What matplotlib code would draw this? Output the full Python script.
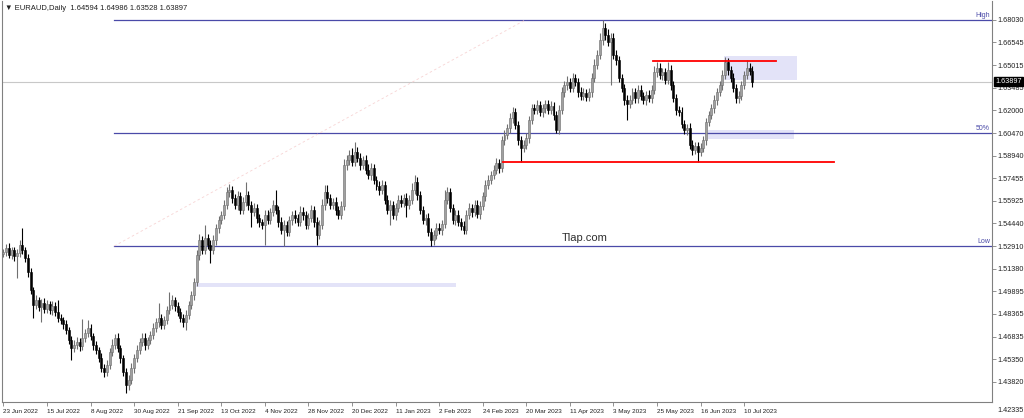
import matplotlib.pyplot as plt
import matplotlib.transforms as mtransforms
from matplotlib.patches import Rectangle

# EURAUD daily closes, one per bar starting 23 Jun 2022
closes = [
    1.5251, 1.5278, 1.5231, 1.5265, 1.5224, 1.5244, 1.5298, 1.5265, 1.5211, 1.5117,
    1.4997, 1.4896, 1.4930, 1.4883, 1.4910, 1.4870, 1.4903, 1.4863, 1.4890, 1.4850,
    1.4809, 1.4796, 1.4769, 1.4729, 1.4663, 1.4609, 1.4629, 1.4649, 1.4622, 1.4676,
    1.4709, 1.4743, 1.4689, 1.4629, 1.4596, 1.4542, 1.4475, 1.4449, 1.4495, 1.4582,
    1.4629, 1.4676, 1.4609, 1.4542, 1.4449, 1.4361, 1.4395, 1.4475, 1.4542, 1.4596,
    1.4649, 1.4676, 1.4629, 1.4663, 1.4696, 1.4743, 1.4783, 1.4809, 1.4763, 1.4796,
    1.4863, 1.4896, 1.4930, 1.4890, 1.4850, 1.4809, 1.4783, 1.4830, 1.4896, 1.4963,
    1.5051, 1.5231, 1.5331, 1.5265, 1.5345, 1.5298, 1.5265, 1.5331, 1.5412, 1.5465,
    1.5499, 1.5566, 1.5652, 1.5666, 1.5612, 1.5566, 1.5626, 1.5532, 1.5586, 1.5632,
    1.5566, 1.5519, 1.5546, 1.5478, 1.5452, 1.5432, 1.5499, 1.5465, 1.5519, 1.5566,
    1.5532, 1.5452, 1.5398, 1.5432, 1.5385, 1.5465, 1.5499, 1.5478, 1.5452, 1.5519,
    1.5499, 1.5432, 1.5478, 1.5532, 1.5452, 1.5365, 1.5432, 1.5566, 1.5652, 1.5612,
    1.5566, 1.5586, 1.5532, 1.5499, 1.5559, 1.5833, 1.5866, 1.5900, 1.5853, 1.5920,
    1.5880, 1.5833, 1.5866, 1.5800, 1.5766, 1.5813, 1.5733, 1.5693, 1.5666, 1.5700,
    1.5599, 1.5532, 1.5566, 1.5499, 1.5546, 1.5599, 1.5579, 1.5612, 1.5566, 1.5599,
    1.5666, 1.5720, 1.5632, 1.5532, 1.5465, 1.5478, 1.5385, 1.5331, 1.5365, 1.5412,
    1.5398, 1.5438, 1.5599, 1.5652, 1.5546, 1.5465, 1.5499, 1.5452, 1.5425, 1.5398,
    1.5499, 1.5546, 1.5519, 1.5566, 1.5505, 1.5559, 1.5626, 1.5700, 1.5733, 1.5766,
    1.5800, 1.5847, 1.5813, 1.6000, 1.6034, 1.6080, 1.6147, 1.6188, 1.6100, 1.6000,
    1.5947, 1.5967, 1.6014, 1.6134, 1.6214, 1.6201, 1.6234, 1.6188, 1.6214, 1.6241,
    1.6201, 1.6228, 1.6167, 1.6067, 1.6201, 1.6321, 1.6368, 1.6389, 1.6348, 1.6415,
    1.6389, 1.6321, 1.6295, 1.6315, 1.6288, 1.6321, 1.6415, 1.6502, 1.6569, 1.6669,
    1.6750, 1.6703, 1.6656, 1.6683, 1.6569, 1.6535, 1.6415, 1.6348, 1.6268, 1.6241,
    1.6268, 1.6321, 1.6281, 1.6335, 1.6295, 1.6268, 1.6301, 1.6281, 1.6335, 1.6455,
    1.6482, 1.6435, 1.6455, 1.6402, 1.6469, 1.6368, 1.6281, 1.6201, 1.6188, 1.6107,
    1.6067, 1.6080, 1.5967, 1.5933, 1.5960, 1.5920, 1.5947, 1.6000, 1.6121, 1.6167,
    1.6214, 1.6268, 1.6321, 1.6368, 1.6435, 1.6522, 1.6469, 1.6415, 1.6348, 1.6281,
    1.6295, 1.6368, 1.6435, 1.6482, 1.64594, 1.63897,
]
first_open = 1.5240

# wick lengths in pips above / below the body
upper_wick = [
    20, 25, 30, 18, 22, 28, 35, 114, 20, 25,
    30, 22, 35, 20, 25, 30, 28, 22, 30, 25,
    80, 25, 20, 30, 22, 28, 35, 30, 25, 130,
    30, 55, 25, 20, 28, 22, 30, 25, 35, 30,
    40, 25, 30, 22, 20, 25, 30, 35, 28, 30,
    25, 30, 35, 22, 28, 30, 25, 100, 30, 28,
    25, 88, 30, 22, 28, 25, 30, 35, 25, 30,
    28, 35, 40, 30, 87, 25, 30, 35, 28, 30,
    25, 30, 35, 40, 28, 30, 35, 25, 30, 88,
    30, 25, 35, 28, 30, 22, 35, 30, 25, 30,
    100, 25, 30, 35, 28, 30, 25, 35, 30, 40,
    30, 25, 35, 30, 28, 30, 35, 40, 45, 48,
    30, 25, 35, 28, 30, 40, 35, 30, 45, 67,
    35, 30, 28, 35, 40, 30, 28, 25, 35, 30,
    25, 30, 35, 28, 30, 35, 30, 25, 35, 30,
    45, 45, 30, 25, 28, 30, 35, 25, 30, 35,
    30, 25, 67, 35, 30, 28, 35, 30, 25, 30,
    35, 30, 28, 30, 35, 30, 25, 35, 30, 28,
    30, 35, 28, 30, 35, 30, 35, 30, 25, 30,
    28, 30, 35, 30, 25, 30, 35, 28, 30, 25,
    30, 35, 28, 25, 30, 35, 30, 40, 28, 35,
    30, 28, 35, 30, 25, 30, 35, 40, 30, 45,
    53, 35, 40, 30, 35, 30, 28, 30, 25, 30,
    35, 30, 28, 35, 30, 25, 30, 35, 30, 40,
    40, 35, 30, 28, 53, 30, 25, 30, 28, 30,
    30, 25, 35, 30, 28, 30, 35, 30, 25, 30,
    30, 35, 28, 30, 35, 33, 30, 28, 35, 30,
    35, 30, 28, 53, 30, 39,
]
lower_wick = [
    25, 30, 22, 28, 35, 145, 25, 30, 28, 35,
    30, 86, 25, 30, 100, 28, 30, 25, 35, 30,
    28, 30, 35, 25, 30, 80, 28, 30, 35, 25,
    30, 28, 25, 35, 30, 28, 30, 35, 30, 25,
    28, 30, 25, 35, 30, 53, 30, 28, 35, 30,
    30, 25, 35, 28, 30, 25, 30, 35, 28, 30,
    30, 25, 28, 35, 30, 28, 35, 54, 30, 25,
    30, 28, 35, 30, 25, 30, 87, 28, 30, 35,
    28, 30, 25, 35, 30, 28, 35, 30, 25, 30,
    35, 100, 28, 30, 35, 30, 134, 28, 30, 25,
    30, 35, 28, 107, 30, 25, 35, 30, 28, 30,
    35, 30, 25, 28, 35, 70, 30, 28, 35, 30,
    25, 30, 35, 28, 30, 25, 35, 30, 28, 30,
    30, 35, 28, 30, 25, 35, 30, 28, 35, 30,
    30, 28, 100, 30, 35, 28, 30, 25, 80, 30,
    28, 30, 35, 25, 30, 35, 28, 40, 30, 25,
    30, 35, 28, 30, 25, 30, 35, 28, 30, 25,
    30, 28, 35, 30, 25, 30, 28, 35, 30, 25,
    28, 30, 35, 25, 30, 28, 35, 30, 28, 30,
    93, 30, 28, 35, 30, 25, 30, 28, 35, 30,
    28, 30, 35, 20, 30, 28, 35, 30, 25, 30,
    28, 35, 30, 25, 30, 28, 35, 30, 28, 30,
    30, 35, 28, 288, 30, 35, 28, 30, 35, 107,
    30, 28, 35, 30, 25, 30, 35, 28, 30, 25,
    30, 28, 35, 30, 25, 30, 28, 35, 30, 28,
    30, 35, 28, 30, 25, 66, 30, 28, 35, 30,
    28, 30, 35, 25, 30, 28, 35, 30, 28, 30,
    35, 30, 28, 30, 25, 37,
]

price_ticks = [1.68030, 1.66545, 1.65015, 1.63485, 1.62000, 1.60470, 1.58940,
               1.57455, 1.55925, 1.54440, 1.52910, 1.51380, 1.49895, 1.48365,
               1.46835, 1.45350, 1.43820]
date_labels = ['23 Jun 2022', '15 Jul 2022', '8 Aug 2022', '30 Aug 2022', '21 Sep 2022',
               '13 Oct 2022', '4 Nov 2022', '28 Nov 2022', '20 Dec 2022', '11 Jan 2023',
               '2 Feb 2023', '24 Feb 2023', '20 Mar 2023', '11 Apr 2023', '3 May 2023',
               '25 May 2023', '16 Jun 2023', '10 Jul 2023']

fibo_high = 1.68030
fibo_low = 1.52910
fibo_mid = 1.60470
resistance = 1.6529
support = 1.5855
last_price = 1.63897

opens = [first_open] + closes[:-1]
n = len(closes)

plt.rcParams['font.family'] = ['Liberation Sans', 'DejaVu Sans']
fig = plt.figure(figsize=(10.24, 4.18), dpi=100)
ax = fig.add_axes([2 / 1024, 16 / 418, 990 / 1024, 401 / 418])
ax.set_xlim(-0.5, 363.0)
ax.set_ylim(1.42474, 1.69301)

# shaded zones
zone_color = '#e3e3f8'
ax.add_patch(Rectangle((264.7, 1.6402), 26.8, 0.0160, color=zone_color, zorder=1, lw=0))
ax.add_patch(Rectangle((258.8, 1.6007), 31.6, 0.0060, color=zone_color, zorder=1, lw=0))
ax.add_patch(Rectangle((70.9, 1.5017), 95.4, 0.0027, color=zone_color, zorder=1, lw=0))

# fibo lines
fibo_color = '#4a4aa8'
for lvl in [fibo_high, fibo_mid, fibo_low]:
    ax.plot([40.75, 363.0], [lvl, lvl], color=fibo_color, lw=0.9, zorder=2)
ax.plot([40.75, 191.6], [fibo_low, fibo_high], color='#f7d4d4', lw=0.6,
        ls=(0, (3, 3)), zorder=2)
for lvl, name in [(fibo_high, 'High'), (fibo_mid, '50%'), (fibo_low, 'Low')]:
    ax.text(362.3, lvl + 0.0008, name, color=fibo_color, fontsize=5, ha='right', va='bottom')

ax.axhline(last_price, color='#c8c8c8', lw=0.8, zorder=1)

# red levels
ax.plot([238.6, 283.8], [resistance, resistance], color='#ff0000', lw=1.3, zorder=4)
ax.plot([183.5, 305.0], [support, support], color='#ff0000', lw=1.3, zorder=4)

# candles
for i in range(n):
    o, c = opens[i], closes[i]
    top = max(o, c) + upper_wick[i] / 10000
    bot = min(o, c) - lower_wick[i] / 10000
    bull = c >= o
    wick_col = '#707070' if bull else '#000000'
    ax.vlines(i, bot, top, color=wick_col, lw=0.8, zorder=3)
    h = max(abs(c - o), 0.0004)
    if bull:
        ax.bar(i, h, bottom=min(o, c), width=0.72, color='#a0a0a0',
               edgecolor='#6c6c6c', linewidth=0.4, zorder=3)
    else:
        ax.bar(i, h, bottom=min(o, c), width=0.72, color='#000000',
               edgecolor='#000000', linewidth=0.4, zorder=3)

ax.text(213.3, 1.5345, 'Tlap.com', fontsize=8, color='#303030', ha='center', va='center')

# axes styling
ax.spines['top'].set_visible(False)
for s in ['left', 'right', 'bottom']:
    ax.spines[s].set_color('#808080')
    ax.spines[s].set_linewidth(0.8)

ax.yaxis.tick_right()
ax.set_yticks(price_ticks)
ax.set_yticklabels(['%.5f' % p for p in price_ticks])
ax.tick_params(axis='y', labelsize=5.2, length=3, width=0.6, color='#808080',
               pad=1, labelcolor='#202020')

ax.set_xticks([16 * k for k in range(len(date_labels))])
ax.set_xticklabels(date_labels)
ax.tick_params(axis='x', labelsize=4.6, length=3, width=0.6, color='#808080',
               pad=2, labelcolor='#202020')
plt.setp(ax.get_xticklabels(), ha='left')

# current price tag
trans = mtransforms.blended_transform_factory(ax.transAxes, ax.transData)
ax.text(1.003, last_price, '1.63897', transform=trans, fontsize=5.2, color='white',
        ha='left', va='center',
        bbox=dict(boxstyle='square,pad=0.15', fc='black', ec='black'))
fig.text(997 / 1024, 1 - 411 / 418, '1.42335', fontsize=5.2, color='#202020',
         ha='left', va='center')

fig.text(5 / 1024, 1 - 8 / 418, '\u25bc EURAUD,Daily  1.64594 1.64986 1.63528 1.63897',
         fontsize=5.5, color='#202020', ha='left', va='center',
         family=['Liberation Sans', 'DejaVu Sans'])

fig.savefig('out.png', dpi=100)
